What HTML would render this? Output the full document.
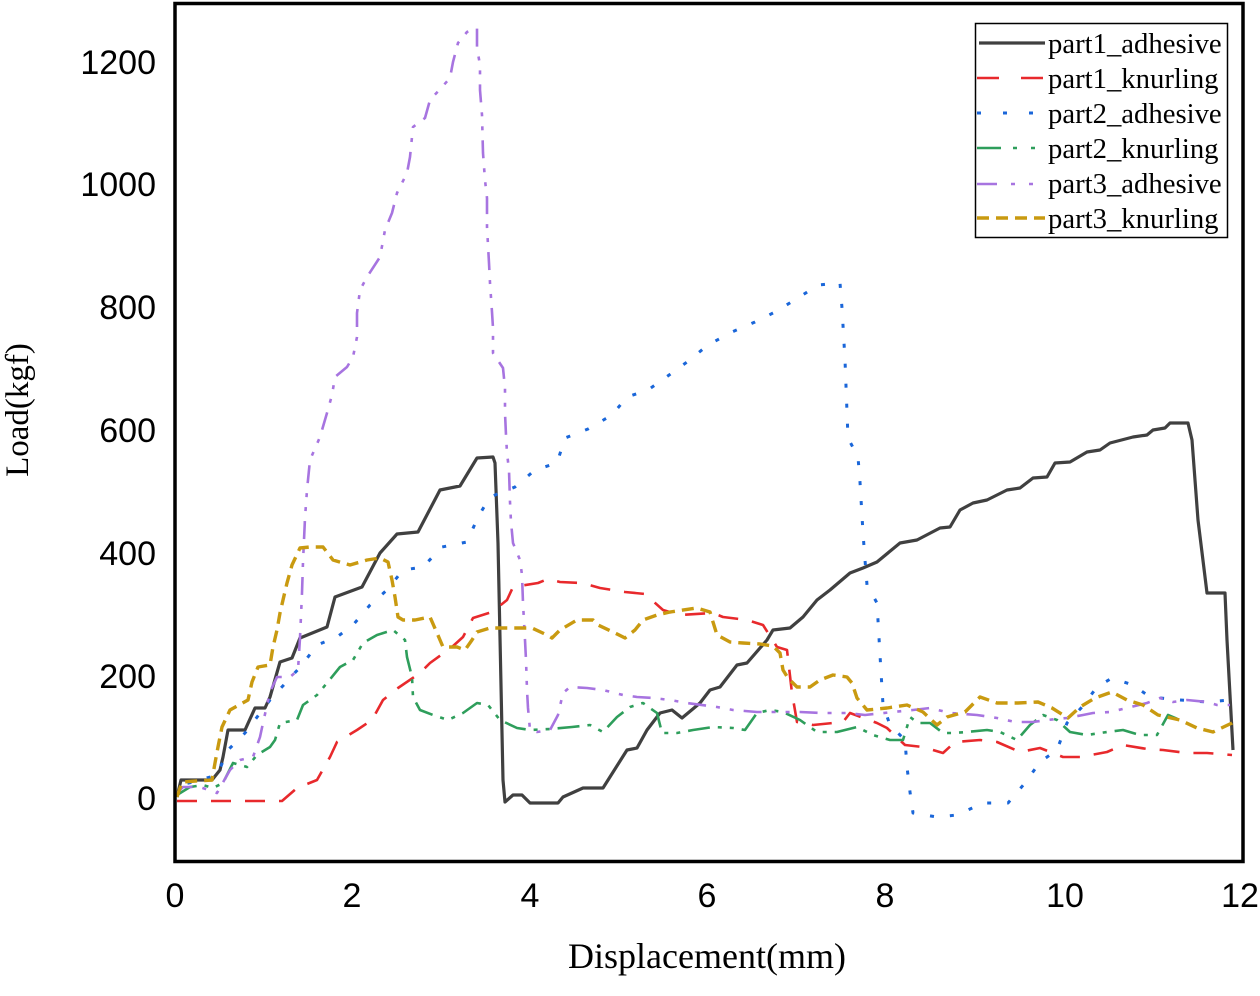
<!DOCTYPE html>
<html>
<head>
<meta charset="utf-8">
<style>
html,body{margin:0;padding:0;background:#fff;}
svg{display:block;}
</style>
</head>
<body>
<svg width="1260" height="996" viewBox="0 0 1260 996" xmlns="http://www.w3.org/2000/svg">
<rect x="0" y="0" width="1260" height="996" fill="#fff"/>

<g fill="none" stroke-linejoin="round">
<!-- part1_adhesive -->
<polyline stroke="#404040" stroke-width="3.2" points="177,797 181,780 212,780 220,770 223,757 228,730 245,730 255,708 265,708 270,697 280,662 292,658 300,638 327,627 335,597 362,587 380,553 397,534 418,532 440,490 460,486 477,458 493,457 495,463 498,543 503,780 505,802 513,795 522,795 530,803 558,803 563,797 583,788 603,788 627,750 637,748 647,730 660,713 672,710 682,718 700,703 710,690 720,687 737,665 747,663 767,640 773,630 790,628 803,617 817,600 830,590 850,573 863,568 877,562 900,543 917,540 940,528 950,527 960,510 973,503 987,500 1007,490 1020,488 1033,478 1047,477 1055,463 1070,462 1087,452 1100,450 1110,443 1133,437 1147,435 1153,430 1165,428 1170,423 1188,423 1192,440 1198,520 1207,593 1225,593 1227,640 1233,750"/>
<!-- part1_knurling -->
<polyline stroke="#e8292c" stroke-width="2.6" stroke-dasharray="20 14" points="177,801 200,801 237,801 282,801 297,788 317,780 330,757 337,742 357,730 372,720 383,700 398,688 420,673 430,663 452,647 463,637 473,618 492,612 507,600 513,587 538,583 548,579 560,582 582,583 600,588 625,592 645,594 663,610 680,615 713,613 723,617 747,620 763,625 777,647 787,650 792,693 797,722 813,725 843,722 850,713 877,723 887,728 905,745 923,747 943,753 955,742 980,740 997,742 1020,752 1040,748 1063,757 1080,757 1107,752 1123,745 1147,749 1163,750 1187,753 1207,753 1232,755"/>
<!-- part2_adhesive -->
<polyline stroke="#1a66d9" stroke-width="3" stroke-dasharray="4 16" points="177,797 180,785 193,782 217,775 228,750 245,733 270,700 302,665 317,645 337,637 353,625 370,605 387,590 403,570 423,567 442,547 467,542 478,517 490,497 515,487 535,470 557,463 565,438 588,429 612,415 627,397 648,390 665,378 687,362 708,345 732,332 755,322 775,312 798,298 818,285 840,283 842,308 845,360 847,412 848,438 858,457 860,482 863,533 865,560 867,585 877,603 880,655 883,705 890,725 905,740 907,767 910,792 913,813 937,817 957,815 983,803 1008,803 1025,783 1040,762 1057,750 1067,723 1082,707 1097,687 1112,678 1133,685 1150,697 1180,700 1207,702 1230,700"/>
<!-- part2_knurling -->
<polyline stroke="#2e9e5b" stroke-width="2.6" stroke-dasharray="22 8 4 8 4 8" points="177,795 190,787 203,785 213,788 223,783 228,773 233,763 247,767 257,755 270,747 275,740 280,723 297,720 303,705 317,695 327,683 340,667 353,660 363,643 377,635 393,630 405,640 407,657 412,677 413,697 420,710 433,715 448,720 463,713 477,703 488,705 500,720 517,728 530,730 550,729 572,727 590,725 603,732 617,717 630,707 643,703 657,713 662,733 677,733 693,730 713,727 733,728 745,730 757,713 770,710 783,712 800,720 817,732 837,732 857,727 873,735 890,740 903,740 910,717 918,723 930,723 943,733 952,733 967,732 987,730 1000,732 1017,740 1030,725 1043,715 1057,720 1070,732 1087,735 1107,732 1123,730 1140,735 1157,735 1168,715 1180,720"/>
<!-- part3_adhesive -->
<polyline stroke="#a774e0" stroke-width="2.6" stroke-dasharray="18 10 4 10 4 10" points="177,793 183,787 200,787 217,793 230,770 240,760 253,757 260,737 263,723 270,692 277,677 290,677 298,670 300,638 302,593 303,562 305,518 307,490 310,460 320,437 327,413 332,395 335,377 347,367 353,357 357,337 357,313 360,290 367,277 380,257 385,230 392,213 397,193 407,173 410,157 413,127 425,118 430,100 442,87 450,78 453,62 458,43 467,32 477,28 477,48 480,65 480,90 482,115 483,153 485,180 487,198 487,227 489,263 490,283 492,312 493,328 493,353 503,368 505,388 505,413 506,435 507,453 509,470 510,502 511,522 513,543 520,560 522,575 523,603 525,640 526,660 527,690 528,708 530,730 537,732 550,730 558,715 563,693 570,687 587,688 603,690 623,695 637,697 653,698 670,700 687,703 717,707 733,710 757,712 800,712 823,713 847,713 865,715 893,712 913,710 930,708 950,713 977,715 997,718 1015,722 1033,722 1047,720 1067,718 1083,715 1093,713 1110,712 1127,708 1147,703 1160,698 1173,702 1187,700 1207,702 1217,705 1230,705"/>
<!-- part3_knurling -->
<polyline stroke="#c99a10" stroke-width="3.4" stroke-dasharray="12 7" points="177,797 182,782 212,780 215,763 218,747 222,727 230,710 248,700 252,682 258,667 270,665 273,647 277,630 280,613 283,600 287,583 292,565 300,548 310,547 323,547 333,560 350,565 367,560 380,558 388,562 392,580 395,597 398,617 403,620 415,620 430,617 437,633 443,647 457,647 465,650 472,640 477,632 490,628 512,628 532,628 547,635 552,638 560,630 577,620 593,620 598,625 613,632 625,638 635,630 643,620 657,615 670,612 697,608 710,612 713,622 717,635 730,642 743,643 760,644 773,646 780,653 783,670 788,678 797,687 810,687 820,680 833,675 847,677 852,683 857,698 867,710 887,708 907,705 923,712 937,725 947,717 965,712 980,697 997,703 1018,703 1038,702 1052,708 1068,718 1080,707 1095,698 1112,692 1127,700 1143,705 1158,715 1180,720 1197,728 1213,732 1232,723 1235,720"/>
</g>

<!-- plot frame -->
<rect x="175" y="3.5" width="1068" height="858" fill="none" stroke="#000" stroke-width="3.5"/>

<!-- legend -->
<rect x="975.5" y="23.5" width="252" height="214" fill="#fff" stroke="#000" stroke-width="1.5"/>
<g fill="none">
<line x1="979" y1="43" x2="1045" y2="43" stroke="#404040" stroke-width="3.2"/>
<line x1="977" y1="78" x2="1045" y2="78" stroke="#e8292c" stroke-width="2.6" stroke-dasharray="22 22"/>
<line x1="977" y1="113" x2="1045" y2="113" stroke="#1a66d9" stroke-width="3" stroke-dasharray="4 22"/>
<line x1="977" y1="148" x2="1045" y2="148" stroke="#2e9e5b" stroke-width="2.6" stroke-dasharray="24 12 4 14 4 14"/>
<line x1="977" y1="184" x2="1045" y2="184" stroke="#a774e0" stroke-width="2.6" stroke-dasharray="20 14 4 14 4 14"/>
<line x1="977" y1="218" x2="1045" y2="218" stroke="#c99a10" stroke-width="3.4" stroke-dasharray="12 7"/>
</g>
<g font-family="'Liberation Serif', serif" font-size="28.7" fill="#000">
<text x="1048" y="53">part1_adhesive</text>
<text x="1048" y="88">part1_knurling</text>
<text x="1048" y="123">part2_adhesive</text>
<text x="1048" y="158">part2_knurling</text>
<text x="1048" y="193">part3_adhesive</text>
<text x="1048" y="228">part3_knurling</text>
</g>

<!-- y tick labels -->
<g font-family="'Liberation Sans', sans-serif" font-size="34" fill="#000" text-anchor="end">
<text x="156" y="74">1200</text>
<text x="156" y="196">1000</text>
<text x="156" y="319">800</text>
<text x="156" y="442">600</text>
<text x="156" y="565">400</text>
<text x="156" y="688">200</text>
<text x="156" y="810">0</text>
</g>
<!-- x tick labels -->
<g font-family="'Liberation Sans', sans-serif" font-size="34" fill="#000" text-anchor="middle">
<text x="175" y="907">0</text>
<text x="352" y="907">2</text>
<text x="530" y="907">4</text>
<text x="707" y="907">6</text>
<text x="885" y="907">8</text>
<text x="1065" y="907">10</text>
<text x="1240" y="907">12</text>
</g>

<!-- axis titles -->
<text x="707" y="968" font-family="'Liberation Serif', serif" font-size="36" text-anchor="middle" fill="#000">Displacement(mm)</text>
<text transform="translate(28,410) rotate(-90)" font-family="'Liberation Serif', serif" font-size="33" text-anchor="middle" fill="#000">Load(kgf)</text>
</svg>
</body>
</html>
